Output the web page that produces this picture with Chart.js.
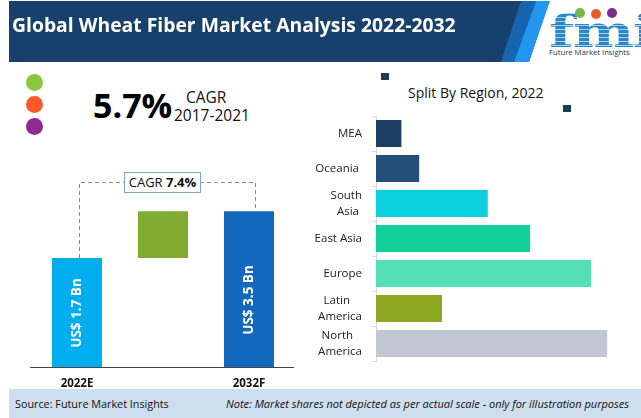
<!DOCTYPE html>
<html>
<head>
<meta charset="utf-8">
<title>Global Wheat Fiber Market Analysis 2022-2032</title>
<script src="https://cdn.jsdelivr.net/npm/chart.js@4"></script>
<style>
  html, body { margin: 0; padding: 0; background: #fff; }
  #page { position: relative; width: 641px; height: 418px; overflow: hidden; font-family: "Open Sans", sans-serif; color: #111; }
  #page > * { position: absolute; }
  canvas { display: block; }
  .header { left: 9px; top: 1px; width: 540px; height: 61px; background: #17406d;
            clip-path: polygon(0 0, 100% 0, 520px 100%, 0 100%); }
  .stripe { top: 1px; height: 61px; }
  .s1 { left: 490px; width: 60px; background: #1565b0; clip-path: polygon(31px 0, 46px 0, 24px 100%, 11px 100%); }
  .s2 { left: 490px; width: 70px; background: #2296ee; clip-path: polygon(46px 0, 60px 0, 39px 100%, 24px 100%); }
  .title { left: 12px; top: 11px; font-size: 20px; font-weight: 700; color: #fff; white-space: nowrap;
           transform: scaleX(0.967); transform-origin: left; }
  .logo { left: 549px; top: 6px; font-family: "DejaVu Serif", serif; font-weight: 700; font-size: 44px; line-height: 52px;
          letter-spacing: -1px; color: transparent;
          background: repeating-linear-gradient(#2a86c8 0 3px, #a9d3ee 3px 4px);
          -webkit-background-clip: text; background-clip: text;
          transform: scaleX(1.32); transform-origin: left; }
  .logo-text { left: 549px; top: 46px; font-size: 7.7px; line-height: 12px; color: #333; white-space: nowrap; }
  .dot { border-radius: 50%; }
  .sq { width: 8px; height: 7px; background: #1d3a57; }
  .big { left: 93px; top: 82px; font-size: 34px; font-weight: 700; color: #000; line-height: 46px; }
  .cagr { left: 186px; top: 87px; font-size: 15.5px; line-height: 20px; }
  .period { left: 174px; top: 105px; font-size: 15.5px; line-height: 20px; }
  .region { left: 408px; top: 84px; font-size: 14px; line-height: 18px; white-space: nowrap; }
  .box { left: 124px; top: 172px; width: 75px; height: 19px; border: 1px solid #7ea6c4; background: #fff;
         font-size: 13px; line-height: 19px; text-align: center; white-space: nowrap; }
  .footer { left: 9px; top: 389px; width: 632px; height: 29px; background: #cfdeef; }
  .source { left: 15px; top: 396px; font-size: 10.8px; line-height: 16px; white-space: nowrap; }
  .note { left: 226px; top: 396px; font-size: 11px; line-height: 16px; font-style: italic; white-space: nowrap; }
</style>
</head>
<body>
<div id="page">
  <div class="header"></div>
  <div class="stripe s1"></div>
  <div class="stripe s2"></div>
  <div class="title">Global Wheat Fiber Market Analysis 2022-2032</div>
  <div class="logo">fmi</div>
  <div class="dot" style="left:575px;top:8px;width:10px;height:10px;background:#7ab648"></div>
  <div class="dot" style="left:591px;top:9px;width:10px;height:10px;background:#f05a28"></div>
  <div class="dot" style="left:607px;top:8px;width:10px;height:10px;background:#7b2d8e"></div>
  <div class="logo-text">Future Market Insights</div>

  <div class="dot" style="left:26px;top:74px;width:17px;height:17px;background:#8cc63f"></div>
  <div class="dot" style="left:26px;top:96px;width:17px;height:17px;background:#fb5a26"></div>
  <div class="dot" style="left:26px;top:118px;width:17px;height:17px;background:#8e2a93"></div>
  <div class="big">5.7%</div>
  <div class="cagr">CAGR</div>
  <div class="period">2017-2021</div>

  <div class="sq" style="left:381px;top:73px"></div>
  <div class="sq" style="left:563px;top:105px"></div>
  <div class="region">Split By Region, 2022</div>

  <canvas id="growthChart" width="264" height="230" style="left:30px;top:160px"></canvas>
  <div class="box">CAGR <b>7.4%</b></div>
  <canvas id="regionChart" width="341" height="260" style="left:300px;top:110px"></canvas>

  <div class="footer"></div>
  <div class="source">Source: Future Market Insights</div>
  <div class="note">Note: Market shares not depicted as per actual scale - only for illustration purposes</div>
</div>

<script>
// left chart, bars are not to scale in the original so heights are read off the picture
const years = ['2022E', '', '2032F'];
const barStart = [0, 1.7, 0];
const barEnd = [1.7, 2.43, 2.43];
const barText = ['US$ 1.7 Bn', '', 'US$ 3.5 Bn'];
const barColors = ['#00aeef', '#7fab30', '#1268bc'];

// right chart, estimated shares
const regions = [['MEA'], ['Oceania '], ['South', 'Asia '], ['East Asia'], ['Europe'], ['Latin    ', 'America'], ['North   ', 'America']];
const regionShare = [3.0, 5.1, 13.2, 18.2, 25.4, 7.8, 27.3];
const regionColors = ['#1d3f63', '#234e77', '#0ad0de', '#12d09a', '#54e0b4', '#8fa821', '#c1c7d3'];

const growthDecor = {
    id: 'growthDecor',
    afterDatasetsDraw(chart) {
        const ctx = chart.ctx;
        const x = chart.scales.x;
        const y = chart.scales.y;

        // baseline runs a bit past the plot area
        ctx.save();
        ctx.strokeStyle = '#444';
        ctx.lineWidth = 1;
        ctx.beginPath();
        ctx.moveTo(0, y.bottom + 0.5);
        ctx.lineTo(chart.width, y.bottom + 0.5);
        ctx.stroke();

        // dashed connector between the two bars, goes behind the CAGR box
        const leftX = Math.round(x.getPixelForValue(0) + 2) + 0.5;
        const rightX = Math.round(x.getPixelForValue(2) + 6) + 0.5;
        ctx.strokeStyle = '#888';
        ctx.setLineDash([4, 3]);
        ctx.beginPath();
        ctx.moveTo(leftX, y.getPixelForValue(barEnd[0]));
        ctx.lineTo(leftX, 22.5);
        ctx.lineTo(rightX, 22.5);
        ctx.lineTo(rightX, y.getPixelForValue(barEnd[2]));
        ctx.stroke();
        ctx.setLineDash([]);

        // value labels turned sideways inside the bars
        const textY = [313 - 160, 0, 300 - 160];
        ctx.fillStyle = '#fff';
        ctx.font = '700 13.5px "Open Sans"';
        ctx.textAlign = 'center';
        ctx.textBaseline = 'middle';
        barText.forEach((txt, i) => {
            if (txt == '') return;
            ctx.save();
            ctx.translate(x.getPixelForValue(i), textY[i]);
            ctx.rotate(-Math.PI / 2);
            ctx.fillText(txt, 0, 0);
            ctx.restore();
        });
        ctx.restore();
    }
};

new Chart(document.getElementById('growthChart'), {
    type: 'bar',
    data: {
        labels: years,
        datasets: [{
            data: barStart.map((start, i) => [start, barEnd[i]]),
            backgroundColor: barColors,
            barPercentage: 50 / 86,
            categoryPercentage: 1
        }]
    },
    options: {
        responsive: false,
        animation: false,
        layout: { padding: { left: 4, right: 2 } },
        plugins: { legend: { display: false }, tooltip: { enabled: false } },
        scales: {
            x: {
                grid: { display: false },
                border: { display: false },
                ticks: { color: '#111', font: { family: 'Open Sans', size: 11.5, weight: '700' }, padding: 2, maxRotation: 0 },
                afterFit(scale) { scale.height = 23; }
            },
            y: { display: false, min: 0, max: 3.23 }
        }
    },
    plugins: [growthDecor]
});

new Chart(document.getElementById('regionChart'), {
    type: 'bar',
    data: {
        labels: regions,
        datasets: [{
            data: regionShare,
            backgroundColor: regionColors,
            barPercentage: 27 / 35,
            categoryPercentage: 1
        }]
    },
    options: {
        indexAxis: 'y',
        responsive: false,
        animation: false,
        layout: { padding: { top: 6, bottom: 9, right: 11 } },
        plugins: { legend: { display: false }, tooltip: { enabled: false } },
        scales: {
            x: { display: false, min: 0, max: 30 },
            y: {
                grid: { drawOnChartArea: false, color: '#d9d9d9', tickLength: 4 },
                border: { color: '#d9d9d9' },
                ticks: {
                    color: '#222',
                    font: { family: 'Open Sans', size: 11.5, lineHeight: 1.4 },
                    padding: 10,
                    crossAlign: 'near',
                    autoSkip: false
                },
                afterFit(scale) {
                    // two line labels would otherwise push the plot area down
                    scale.width = 76;
                    scale.paddingTop = 0;
                    scale.paddingBottom = 0;
                }
            }
        }
    }
});
</script>
</body>
</html>
